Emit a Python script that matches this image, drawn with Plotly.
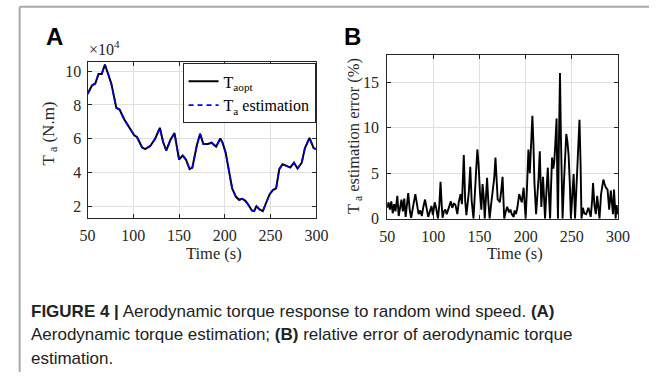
import plotly.graph_objects as go

W, H = 661, 381

# ---------------- data ----------------
# Panel A: aerodynamic torque (units of 1e4 N.m) vs time (s)
time_a = [50, 55, 58.5, 62, 65.5, 69, 72.5, 76, 81.5, 85, 90, 95.5, 101, 104, 109.5,
          113, 118.5, 124, 129, 132.5, 136, 140.5, 145, 150, 154, 157.5, 161.5, 164.5,
          169.5, 173, 176.5, 181.5, 185.5, 190.5, 195, 197.5, 201, 204.5, 208, 212,
          215.5, 219, 222.5, 226, 229.5, 232, 234.5, 238, 241.5, 245, 249, 252.5, 256,
          259.5, 263, 267.5, 271.5, 275.5, 279.5, 284, 287.5, 292.5, 294.5, 297, 300]
torque_aopt = [8.65, 9.16, 9.26, 9.83, 9.83, 10.38, 9.83, 9.26, 7.83, 7.73, 7.16, 6.69,
               6.21, 6.11, 5.5, 5.39, 5.58, 6.02, 6.65, 5.83, 5.31, 5.93, 6.34, 4.78,
               5.01, 4.78, 4.21, 4.30, 5.64, 6.3, 5.70, 5.7, 5.77, 5.54, 6.02, 5.77,
               5.16, 4.11, 3.07, 2.59, 2.4, 2.46, 2.34, 2.08, 1.77, 1.73, 2.02, 1.83,
               1.73, 2.21, 2.73, 2.97, 3.07, 4.21, 4.5, 4.4, 4.30, 4.59, 4.25, 4.59,
               5.45, 6.06, 5.77, 5.45, 5.39]
torque_est = [8.65, 9.16, 9.26, 9.83, 9.83, 10.38, 9.83, 9.26, 7.83, 7.73, 7.16, 6.69,
              6.21, 6.11, 5.5, 5.39, 5.58, 6.02, 6.65, 5.83, 5.31, 5.93, 6.34, 4.78,
              5.01, 4.78, 4.21, 4.30, 5.64, 6.3, 5.70, 5.7, 5.77, 5.54, 6.02, 5.77,
              5.16, 4.11, 3.07, 2.59, 2.4, 2.46, 2.34, 2.08, 1.77, 1.73, 2.02, 1.83,
              1.73, 2.21, 2.73, 2.97, 3.07, 4.21, 4.5, 4.4, 4.30, 4.59, 4.25, 4.59,
              5.45, 6.06, 5.77, 5.45, 5.39]

# Panel B: estimation error (%) vs time (s)
time_b = [50, 51.5, 53, 54.5, 56, 57.5, 59, 61, 62.5, 64, 65.5, 67, 68.5, 70, 71, 72.8,
          74.5, 76, 77.5, 79, 80.5, 82, 84, 85.8, 87.5, 89, 91, 93, 94.5, 96, 98, 99.5,
          101.5, 103, 105, 106.5, 107.8, 109, 110, 111.5, 113, 114.5, 116, 117.5, 119,
          120.5, 122.5, 124, 126, 127.5, 129.5, 131, 133, 134.5, 135.8, 137, 138.5, 140,
          141.5, 143.5, 145, 146.5, 147.7, 149, 150.5, 152, 153.3, 154.5, 155.7, 157,
          158.2, 159.5, 161, 162.5, 164.5, 166, 167.3, 168.5, 169.7, 171, 172, 173.5,
          175, 176, 176.8, 178.5, 180, 182, 183.5, 185, 187, 188, 189.5, 191, 193,
          194.5, 195.8, 197.8, 199, 200, 201.5, 203, 204.5, 205.8, 207.3, 208.5, 209.5,
          211.3, 213, 214, 215.3, 216.2, 217, 218.8, 220, 221, 222.5, 224, 225.3, 226.5,
          227.5, 228.6, 230, 231, 232, 233.5, 234.3, 235, 236, 237.2, 238.2, 239, 240,
          241.5, 242.8, 244, 245.2, 246.5, 247.8, 249, 250.5, 252, 253.5, 255, 256.8,
          258.3, 259.5, 260.5, 262, 263.5, 265.5, 267, 268, 269.5, 270.5, 272, 273,
          274.5, 276, 277.5, 279, 280, 281.7, 283, 284.2, 285.5, 287, 288.7, 290, 290.5,
          292.2, 293.5, 294.6, 295.7, 297, 297.5, 298.5, 300]
error_pct = [1.2, 1.8, 1.0, 1.9, 0.6, 1.6, 0.8, 2.5, 0.3, 1.2, 2.1, 0.8, 2.2, 0.2, 1.5, 2.8,
             0.9, 0.1, 1.0, 1.9, 2.7, 1.8, 0.5, 0.9, 0.3, 1.2, 2.1, 1.0, 0.2, 0.7, 1.4, 0.4,
             1.8, 1.2, 0.0, 1.5, 4.05, 1.6, 0.1, 0.8, 1.0, 0.5, 1.0, 1.3, 1.9,
             1.2, 1.7, 1.5, 0.5, 1.8, 2.7, 1.6, 7.0, 2.0, 0.4, 1.5, 3.0, 5.7,
             2.0, 0.0, 2.2, 5.5, 7.6, 6.0, 2.9, 1.0, 3.8, 2.5, 0.0, 2.5,
             4.5, 2.0, 0.0, 1.5, 3.2, 4.5, 6.7, 4.0, 2.1, 2.0, 1.8, 3.0,
             4.6, 2.0, 0.0, 0.8, 1.3, 0.7, 1.0, 0.5, 0.2, 0.9, 0.5, 1.2, 2.7,
             2.2, 1.8, 3.4, 1.5, 0.0, 3.5, 7.6, 5.0, 8.5, 11.3, 8.0, 4.0,
             0.5, 2.8, 4.5, 7.4, 4.0, 1.3, 4.6, 2.0, 0.0, 3.0, 5.6, 2.5, 0.0,
             3.5, 6.7, 5.5, 6.3, 8.0, 11.0, 4.0, 0.0, 8.0, 16.0, 9.0, 4.0, 0.0,
             4.0, 7.5, 9.3, 8.5, 7.0, 4.0, 0.0, 2.5, 4.9, 0.0, 3.0, 8.0,
             10.85, 6.0, 0.0, 1.2, 0.6, 0.5, 1.0, 1.2, 0.6, 0.2, 2.0, 3.9,
             1.5, 0.5, 2.5, 1.0, 0.0, 2.7, 3.5, 4.3, 3.8, 3.4, 3.2, 2.0, 1.0,
             3.1, 1.5, 0.5, 3.2, 1.0, 0.0, 1.5, 0.5]

x_ticks = [50, 100, 150, 200, 250, 300]
ya_ticks = [2, 4, 6, 8, 10]
yb_ticks = [0, 5, 10, 15]

# ---------------- figure ----------------
def px_x(p):
    return p / W

def px_y(p):
    return 1 - p / H

SERIF = "Liberation Serif, Times New Roman, serif"
SANS = "Liberation Sans, Arial, sans-serif"
AX = "#262626"
GRID = "#e0e0e0"

fig = go.Figure()
fig.add_trace(go.Scatter(x=time_a, y=torque_aopt, mode="lines", name="T<sub>aopt</sub>",
                         line=dict(color="black", width=2), xaxis="x", yaxis="y"))
fig.add_trace(go.Scatter(x=time_a, y=torque_est, mode="lines", name="T<sub>a</sub> estimation",
                         line=dict(color="#0000ff", width=1.6, dash="5px,4px"),
                         xaxis="x", yaxis="y"))
fig.add_trace(go.Scatter(x=time_b, y=error_pct, mode="lines", showlegend=False,
                         line=dict(color="black", width=1.9), xaxis="x2", yaxis="y2"))

axis_common = dict(showline=True, linecolor=AX, linewidth=1, mirror="ticks",
                   ticks="inside", ticklen=4, tickcolor=AX, showgrid=True,
                   gridcolor=GRID, gridwidth=1, zeroline=False,
                   tickfont=dict(family=SERIF, size=16, color="#262626"))

fig.update_layout(
    width=W, height=H, autosize=False,
    margin=dict(l=0, r=0, t=0, b=0),
    paper_bgcolor="white", plot_bgcolor="white",
    xaxis=dict(domain=[px_x(82), px_x(318)], range=[50, 300], tickvals=x_ticks,
               anchor="y", ticklabelstandoff=3, **axis_common),
    yaxis=dict(domain=[px_y(223), px_y(64)], range=[1.34, 10.51], tickvals=ya_ticks,
               anchor="x", ticklabelstandoff=2, **axis_common),
    xaxis2=dict(domain=[px_x(391), px_x(629)], range=[50, 300], tickvals=x_ticks,
                anchor="y2", ticklabelstandoff=3, **axis_common),
    yaxis2=dict(domain=[px_y(224), px_y(56)], range=[0, 18], tickvals=yb_ticks,
                anchor="x2", ticklabelstandoff=4, **axis_common),
    legend=dict(x=px_x(180), y=px_y(65), xanchor="left", yanchor="top",
                bgcolor="white", bordercolor="#262626", borderwidth=1,
                font=dict(family=SERIF, size=16, color="black"),
                tracegroupgap=0),
    showlegend=True,
)

ann = []
# panel letters
ann.append(dict(text="<b>A</b>", x=px_x(37), y=px_y(37), xanchor="left", yanchor="middle",
                font=dict(family=SANS, size=24, color="black")))
ann.append(dict(text="<b>B</b>", x=px_x(344), y=px_y(37), xanchor="left", yanchor="middle",
                font=dict(family=SANS, size=24, color="black")))
# exponent
ann.append(dict(text="×10<sup>4</sup>", x=px_x(81), y=px_y(49), xanchor="left", yanchor="middle",
                font=dict(family=SERIF, size=16, color="#262626")))
# axis titles
ann.append(dict(text="T<sub> a</sub> (N.m)", x=px_x(43), y=px_y(137), textangle=-90,
                xanchor="center", yanchor="middle",
                font=dict(family=SERIF, size=17, color="#262626")))
ann.append(dict(text="T<sub> a</sub> estimation error (%)", x=px_x(356), y=px_y(139), textangle=-90,
                xanchor="center", yanchor="middle",
                font=dict(family=SERIF, size=16.5, color="#262626")))
ann.append(dict(text="Time (s)", x=px_x(212), y=px_y(260), xanchor="center", yanchor="middle",
                font=dict(family=SERIF, size=16.5, color="#262626")))
ann.append(dict(text="Time (s)", x=px_x(523), y=px_y(260), xanchor="center", yanchor="middle",
                font=dict(family=SERIF, size=16.5, color="#262626")))
# caption
cap_lines = [
    "<b>FIGURE 4 |</b> Aerodynamic torque response to random wind speed. <b>(A)</b>",
    "Aerodynamic torque estimation; <b>(B)</b> relative error of aerodynamic torque",
    "estimation.",
]
for i, line in enumerate(cap_lines):
    ann.append(dict(text=line, x=px_x(22), y=px_y(319 + 24 * i), xanchor="left",
                    yanchor="middle", align="left",
                    font=dict(family=SANS, size=17, color="#222222")))
for a in ann:
    a.update(xref="paper", yref="paper", showarrow=False)
fig.update_layout(annotations=ann)

fig.update_layout(shapes=[
    dict(type="line", xref="paper", yref="paper", x0=px_x(12), x1=1, y0=px_y(7), y1=px_y(7),
         line=dict(color="#a8a8a8", width=2)),
    dict(type="line", xref="paper", yref="paper", x0=px_x(12), x1=px_x(12), y0=0, y1=px_y(7),
         line=dict(color="#a8a8a8", width=2)),
])

fig.write_html("out.html", config={"displayModeBar": False},
               post_script="document.body.style.margin='0';document.body.style.overflow='hidden';")
